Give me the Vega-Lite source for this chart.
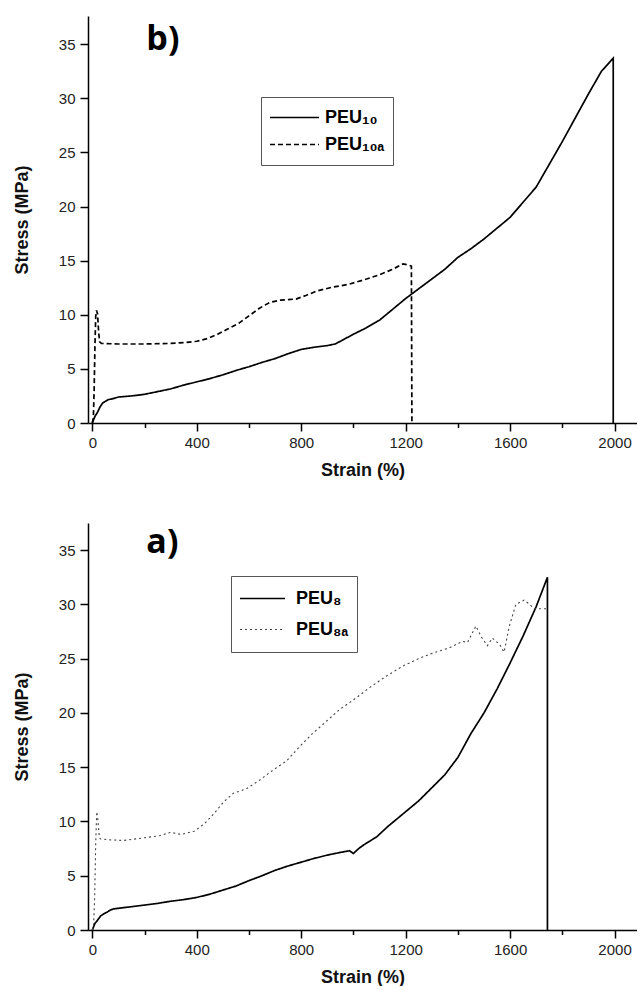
{
  "$schema": "https://vega.github.io/schema/vega-lite/v6.json",
  "padding": {"left": 13, "top": 16, "right": 0, "bottom": 0},
  "background": "white",
  "spacing": 44,
  "config": {
    "view": {"stroke": null},
    "font": "Liberation Sans",
    "axis": {
      "domainColor": "black", "domainWidth": 1.5, "tickColor": "black", "tickWidth": 1.5,
      "labelColor": "#222", "labelFont": "Liberation Sans", "labelFontSize": 15,
      "titleFont": "Liberation Sans", "titleFontSize": 18, "titleFontWeight": "bold", "titleColor": "#111",
      "grid": false, "labelOverlap": false, "labelFlush": false
    }
  },
  "resolve": {
    "scale": {"strokeDash": "independent", "color": "independent", "strokeWidth": "independent"},
    "legend": {"strokeDash": "independent", "color": "independent", "strokeWidth": "independent"}
  },
  "datasets": {
    "top": [
      {"series": "PEU₁₀", "strain": 0, "stress": 0},
      {"series": "PEU₁₀", "strain": 5, "stress": 0.3},
      {"series": "PEU₁₀", "strain": 10, "stress": 0.6},
      {"series": "PEU₁₀", "strain": 20, "stress": 1.0},
      {"series": "PEU₁₀", "strain": 30, "stress": 1.5},
      {"series": "PEU₁₀", "strain": 40, "stress": 1.85},
      {"series": "PEU₁₀", "strain": 50, "stress": 2.0},
      {"series": "PEU₁₀", "strain": 60, "stress": 2.15},
      {"series": "PEU₁₀", "strain": 80, "stress": 2.25},
      {"series": "PEU₁₀", "strain": 100, "stress": 2.4},
      {"series": "PEU₁₀", "strain": 150, "stress": 2.5},
      {"series": "PEU₁₀", "strain": 200, "stress": 2.65},
      {"series": "PEU₁₀", "strain": 250, "stress": 2.9},
      {"series": "PEU₁₀", "strain": 300, "stress": 3.15},
      {"series": "PEU₁₀", "strain": 350, "stress": 3.5},
      {"series": "PEU₁₀", "strain": 400, "stress": 3.8},
      {"series": "PEU₁₀", "strain": 450, "stress": 4.1},
      {"series": "PEU₁₀", "strain": 500, "stress": 4.45},
      {"series": "PEU₁₀", "strain": 550, "stress": 4.85},
      {"series": "PEU₁₀", "strain": 600, "stress": 5.2},
      {"series": "PEU₁₀", "strain": 650, "stress": 5.6},
      {"series": "PEU₁₀", "strain": 700, "stress": 5.95},
      {"series": "PEU₁₀", "strain": 750, "stress": 6.4},
      {"series": "PEU₁₀", "strain": 800, "stress": 6.8},
      {"series": "PEU₁₀", "strain": 850, "stress": 7.0},
      {"series": "PEU₁₀", "strain": 900, "stress": 7.15},
      {"series": "PEU₁₀", "strain": 930, "stress": 7.3},
      {"series": "PEU₁₀", "strain": 950, "stress": 7.55},
      {"series": "PEU₁₀", "strain": 1000, "stress": 8.2},
      {"series": "PEU₁₀", "strain": 1050, "stress": 8.8},
      {"series": "PEU₁₀", "strain": 1100, "stress": 9.5},
      {"series": "PEU₁₀", "strain": 1150, "stress": 10.5},
      {"series": "PEU₁₀", "strain": 1200, "stress": 11.5},
      {"series": "PEU₁₀", "strain": 1250, "stress": 12.4},
      {"series": "PEU₁₀", "strain": 1300, "stress": 13.3},
      {"series": "PEU₁₀", "strain": 1350, "stress": 14.2},
      {"series": "PEU₁₀", "strain": 1400, "stress": 15.3},
      {"series": "PEU₁₀", "strain": 1450, "stress": 16.1},
      {"series": "PEU₁₀", "strain": 1500, "stress": 17.0},
      {"series": "PEU₁₀", "strain": 1550, "stress": 18.0},
      {"series": "PEU₁₀", "strain": 1600, "stress": 19.0},
      {"series": "PEU₁₀", "strain": 1650, "stress": 20.4},
      {"series": "PEU₁₀", "strain": 1700, "stress": 21.8},
      {"series": "PEU₁₀", "strain": 1750, "stress": 23.9},
      {"series": "PEU₁₀", "strain": 1800, "stress": 26.0},
      {"series": "PEU₁₀", "strain": 1850, "stress": 28.2},
      {"series": "PEU₁₀", "strain": 1900, "stress": 30.4},
      {"series": "PEU₁₀", "strain": 1950, "stress": 32.5},
      {"series": "PEU₁₀", "strain": 1995, "stress": 33.7},
      {"series": "PEU₁₀", "strain": 1995, "stress": 0},
      {"series": "PEU₁₀ₐ", "strain": 0, "stress": 0},
      {"series": "PEU₁₀ₐ", "strain": 4, "stress": 0.5},
      {"series": "PEU₁₀ₐ", "strain": 7, "stress": 3},
      {"series": "PEU₁₀ₐ", "strain": 10, "stress": 7},
      {"series": "PEU₁₀ₐ", "strain": 13, "stress": 9.8},
      {"series": "PEU₁₀ₐ", "strain": 16, "stress": 10.4},
      {"series": "PEU₁₀ₐ", "strain": 20, "stress": 10.1},
      {"series": "PEU₁₀ₐ", "strain": 24, "stress": 8.5},
      {"series": "PEU₁₀ₐ", "strain": 28, "stress": 7.5},
      {"series": "PEU₁₀ₐ", "strain": 35, "stress": 7.35},
      {"series": "PEU₁₀ₐ", "strain": 100, "stress": 7.3},
      {"series": "PEU₁₀ₐ", "strain": 200, "stress": 7.3},
      {"series": "PEU₁₀ₐ", "strain": 300, "stress": 7.35},
      {"series": "PEU₁₀ₐ", "strain": 360, "stress": 7.45},
      {"series": "PEU₁₀ₐ", "strain": 400, "stress": 7.55},
      {"series": "PEU₁₀ₐ", "strain": 440, "stress": 7.8},
      {"series": "PEU₁₀ₐ", "strain": 480, "stress": 8.2},
      {"series": "PEU₁₀ₐ", "strain": 520, "stress": 8.7},
      {"series": "PEU₁₀ₐ", "strain": 560, "stress": 9.2},
      {"series": "PEU₁₀ₐ", "strain": 600, "stress": 9.9},
      {"series": "PEU₁₀ₐ", "strain": 640, "stress": 10.6},
      {"series": "PEU₁₀ₐ", "strain": 680, "stress": 11.15},
      {"series": "PEU₁₀ₐ", "strain": 720, "stress": 11.35},
      {"series": "PEU₁₀ₐ", "strain": 780, "stress": 11.45},
      {"series": "PEU₁₀ₐ", "strain": 820, "stress": 11.8},
      {"series": "PEU₁₀ₐ", "strain": 860, "stress": 12.2},
      {"series": "PEU₁₀ₐ", "strain": 920, "stress": 12.55},
      {"series": "PEU₁₀ₐ", "strain": 980, "stress": 12.8},
      {"series": "PEU₁₀ₐ", "strain": 1050, "stress": 13.3},
      {"series": "PEU₁₀ₐ", "strain": 1100, "stress": 13.7},
      {"series": "PEU₁₀ₐ", "strain": 1150, "stress": 14.2},
      {"series": "PEU₁₀ₐ", "strain": 1190, "stress": 14.7},
      {"series": "PEU₁₀ₐ", "strain": 1210, "stress": 14.6},
      {"series": "PEU₁₀ₐ", "strain": 1222, "stress": 14.5},
      {"series": "PEU₁₀ₐ", "strain": 1224, "stress": 0}
    ],
    "bottom": [
      {"series": "PEU₈", "strain": 0, "stress": 0},
      {"series": "PEU₈", "strain": 5, "stress": 0.3},
      {"series": "PEU₈", "strain": 10, "stress": 0.6},
      {"series": "PEU₈", "strain": 20, "stress": 0.9},
      {"series": "PEU₈", "strain": 32, "stress": 1.3},
      {"series": "PEU₈", "strain": 45, "stress": 1.5},
      {"series": "PEU₈", "strain": 57, "stress": 1.65},
      {"series": "PEU₈", "strain": 70, "stress": 1.85},
      {"series": "PEU₈", "strain": 83, "stress": 1.95},
      {"series": "PEU₈", "strain": 100, "stress": 2.0},
      {"series": "PEU₈", "strain": 134, "stress": 2.1},
      {"series": "PEU₈", "strain": 200, "stress": 2.3},
      {"series": "PEU₈", "strain": 250, "stress": 2.45},
      {"series": "PEU₈", "strain": 300, "stress": 2.65},
      {"series": "PEU₈", "strain": 350, "stress": 2.8},
      {"series": "PEU₈", "strain": 400, "stress": 3.0},
      {"series": "PEU₈", "strain": 450, "stress": 3.3},
      {"series": "PEU₈", "strain": 490, "stress": 3.6},
      {"series": "PEU₈", "strain": 550, "stress": 4.05},
      {"series": "PEU₈", "strain": 600, "stress": 4.55},
      {"series": "PEU₈", "strain": 650, "stress": 5.0},
      {"series": "PEU₈", "strain": 700, "stress": 5.5},
      {"series": "PEU₈", "strain": 750, "stress": 5.9},
      {"series": "PEU₈", "strain": 800, "stress": 6.25},
      {"series": "PEU₈", "strain": 850, "stress": 6.6},
      {"series": "PEU₈", "strain": 900, "stress": 6.9},
      {"series": "PEU₈", "strain": 950, "stress": 7.15},
      {"series": "PEU₈", "strain": 985, "stress": 7.3},
      {"series": "PEU₈", "strain": 1000, "stress": 7.05},
      {"series": "PEU₈", "strain": 1020, "stress": 7.5},
      {"series": "PEU₈", "strain": 1040, "stress": 7.85},
      {"series": "PEU₈", "strain": 1090, "stress": 8.6},
      {"series": "PEU₈", "strain": 1130, "stress": 9.5},
      {"series": "PEU₈", "strain": 1200, "stress": 10.9},
      {"series": "PEU₈", "strain": 1250, "stress": 11.9},
      {"series": "PEU₈", "strain": 1300, "stress": 13.1},
      {"series": "PEU₈", "strain": 1350, "stress": 14.3},
      {"series": "PEU₈", "strain": 1400, "stress": 15.9},
      {"series": "PEU₈", "strain": 1450, "stress": 18.1},
      {"series": "PEU₈", "strain": 1500, "stress": 20.0},
      {"series": "PEU₈", "strain": 1550, "stress": 22.2},
      {"series": "PEU₈", "strain": 1600, "stress": 24.6},
      {"series": "PEU₈", "strain": 1650, "stress": 27.1},
      {"series": "PEU₈", "strain": 1700, "stress": 29.8},
      {"series": "PEU₈", "strain": 1743, "stress": 32.5},
      {"series": "PEU₈", "strain": 1743, "stress": 0},
      {"series": "PEU₈ₐ", "strain": 0, "stress": 0},
      {"series": "PEU₈ₐ", "strain": 5, "stress": 0.5},
      {"series": "PEU₈ₐ", "strain": 9, "stress": 3},
      {"series": "PEU₈ₐ", "strain": 13, "stress": 8},
      {"series": "PEU₈ₐ", "strain": 17, "stress": 10.9},
      {"series": "PEU₈ₐ", "strain": 21, "stress": 10.2},
      {"series": "PEU₈ₐ", "strain": 26, "stress": 8.8},
      {"series": "PEU₈ₐ", "strain": 30, "stress": 8.4},
      {"series": "PEU₈ₐ", "strain": 70, "stress": 8.3},
      {"series": "PEU₈ₐ", "strain": 120, "stress": 8.25},
      {"series": "PEU₈ₐ", "strain": 200, "stress": 8.5},
      {"series": "PEU₈ₐ", "strain": 260, "stress": 8.7},
      {"series": "PEU₈ₐ", "strain": 300, "stress": 9.0},
      {"series": "PEU₈ₐ", "strain": 340, "stress": 8.8},
      {"series": "PEU₈ₐ", "strain": 390, "stress": 9.1},
      {"series": "PEU₈ₐ", "strain": 430, "stress": 9.8},
      {"series": "PEU₈ₐ", "strain": 465, "stress": 10.7},
      {"series": "PEU₈ₐ", "strain": 503, "stress": 11.8},
      {"series": "PEU₈ₐ", "strain": 540, "stress": 12.6},
      {"series": "PEU₈ₐ", "strain": 590, "stress": 13.0},
      {"series": "PEU₈ₐ", "strain": 640, "stress": 13.8},
      {"series": "PEU₈ₐ", "strain": 690, "stress": 14.7},
      {"series": "PEU₈ₐ", "strain": 745, "stress": 15.6},
      {"series": "PEU₈ₐ", "strain": 790, "stress": 16.8},
      {"series": "PEU₈ₐ", "strain": 843, "stress": 18.1},
      {"series": "PEU₈ₐ", "strain": 900, "stress": 19.3},
      {"series": "PEU₈ₐ", "strain": 946, "stress": 20.3},
      {"series": "PEU₈ₐ", "strain": 1000, "stress": 21.2},
      {"series": "PEU₈ₐ", "strain": 1060, "stress": 22.3},
      {"series": "PEU₈ₐ", "strain": 1120, "stress": 23.3},
      {"series": "PEU₈ₐ", "strain": 1188, "stress": 24.3},
      {"series": "PEU₈ₐ", "strain": 1240, "stress": 24.9},
      {"series": "PEU₈ₐ", "strain": 1290, "stress": 25.4},
      {"series": "PEU₈ₐ", "strain": 1367, "stress": 26.0},
      {"series": "PEU₈ₐ", "strain": 1418, "stress": 26.6},
      {"series": "PEU₈ₐ", "strain": 1437, "stress": 26.5},
      {"series": "PEU₈ₐ", "strain": 1469, "stress": 28.0},
      {"series": "PEU₈ₐ", "strain": 1490, "stress": 27.0},
      {"series": "PEU₈ₐ", "strain": 1513, "stress": 26.2},
      {"series": "PEU₈ₐ", "strain": 1532, "stress": 26.9},
      {"series": "PEU₈ₐ", "strain": 1560, "stress": 26.3},
      {"series": "PEU₈ₐ", "strain": 1577, "stress": 25.6},
      {"series": "PEU₈ₐ", "strain": 1596, "stress": 27.9},
      {"series": "PEU₈ₐ", "strain": 1622, "stress": 30.0},
      {"series": "PEU₈ₐ", "strain": 1654, "stress": 30.4},
      {"series": "PEU₈ₐ", "strain": 1675, "stress": 30.0},
      {"series": "PEU₈ₐ", "strain": 1692, "stress": 29.6},
      {"series": "PEU₈ₐ", "strain": 1743, "stress": 29.6}
    ]
  },
  "vconcat": [
    {
      "width": 549,
      "height": 407,
      "layer": [
        {
          "data": {"name": "top"},
          "mark": {"type": "line", "color": "black", "strokeWidth": 1.7},
          "encoding": {
            "x": {
              "field": "strain", "type": "quantitative",
              "scale": {"domain": [-16.5, 2086], "nice": false, "zero": false},
              "axis": {
                "title": "Strain (%)", "format": "d",
                "values": [0, 200, 400, 600, 800, 1000, 1200, 1400, 1600, 1800, 2000],
                "labelExpr": "datum.value % 400 === 0 ? datum.label : ''",
                "tickSize": {"condition": {"test": "datum.value % 400 === 0", "value": 8}, "value": 4.5},
                "labelPadding": 4, "titlePadding": 11
              }
            },
            "y": {
              "field": "stress", "type": "quantitative",
              "scale": {"domain": [0, 37.6], "nice": false},
              "axis": {
                "title": "Stress (MPa)",
                "values": [0, 2.5, 5, 7.5, 10, 12.5, 15, 17.5, 20, 22.5, 25, 27.5, 30, 32.5, 35],
                "labelExpr": "datum.value % 5 === 0 ? datum.label : ''",
                "tickSize": {"condition": {"test": "datum.value % 5 === 0", "value": 8}, "value": 3.5},
                "labelPadding": 5, "titlePadding": 26.5
              }
            },
            "strokeDash": {
              "field": "series", "type": "nominal",
              "scale": {"domain": ["PEU₁₀", "PEU₁₀ₐ"], "range": [[1, 0], [5, 3]]},
              "legend": {
                "title": null, "orient": "none", "legendX": 173, "legendY": 81,
                "symbolType": "stroke", "symbolSize": 2401, "symbolStrokeWidth": 1.5, "symbolStrokeColor": "black",
                "labelFont": "Liberation Sans", "labelFontSize": 18, "labelFontWeight": "bold", "labelColor": "black",
                "labelOffset": 5, "labelLimit": 300,
                "strokeColor": "#555", "fillColor": "white", "padding": 8, "clipHeight": 25, "rowPadding": 2
              }
            },
            "order": {"value": null}
          }
        },
        {
          "data": {"values": [{}]},
          "mark": {"type": "text", "text": "b)", "font": "Open Sans", "fontWeight": "bold", "fontSize": 34, "align": "left", "baseline": "alphabetic", "color": "black"},
          "encoding": {"x": {"datum": 207}, "y": {"datum": 34.5}}
        }
      ]
    },
    {
      "width": 549,
      "height": 407,
      "layer": [
        {
          "data": {"name": "bottom"},
          "mark": {"type": "line"},
          "encoding": {
            "x": {
              "field": "strain", "type": "quantitative",
              "scale": {"domain": [-16.5, 2086], "nice": false, "zero": false},
              "axis": {
                "title": "Strain (%)", "format": "d",
                "values": [0, 200, 400, 600, 800, 1000, 1200, 1400, 1600, 1800, 2000],
                "labelExpr": "datum.value % 400 === 0 ? datum.label : ''",
                "tickSize": {"condition": {"test": "datum.value % 400 === 0", "value": 8}, "value": 4.5},
                "labelPadding": 4, "titlePadding": 11
              }
            },
            "y": {
              "field": "stress", "type": "quantitative",
              "scale": {"domain": [0, 37.5], "nice": false},
              "axis": {
                "title": "Stress (MPa)",
                "values": [0, 2.5, 5, 7.5, 10, 12.5, 15, 17.5, 20, 22.5, 25, 27.5, 30, 32.5, 35],
                "labelExpr": "datum.value % 5 === 0 ? datum.label : ''",
                "tickSize": {"condition": {"test": "datum.value % 5 === 0", "value": 8}, "value": 3.5},
                "labelPadding": 5, "titlePadding": 26.5
              }
            },
            "strokeDash": {
              "field": "series", "type": "nominal",
              "scale": {"domain": ["PEU₈", "PEU₈ₐ"], "range": [[1, 0], [2, 3]]},
              "legend": {
                "title": null, "orient": "none", "legendX": 143, "legendY": 53,
                "symbolType": "stroke", "symbolSize": 2025,
                "labelFont": "Liberation Sans", "labelFontSize": 18, "labelFontWeight": "bold", "labelColor": "black",
                "labelOffset": 10, "labelLimit": 300,
                "strokeColor": "#555", "fillColor": "white", "padding": 8, "clipHeight": 29, "rowPadding": 2
              }
            },
            "color": {
              "field": "series", "type": "nominal",
              "scale": {"domain": ["PEU₈", "PEU₈ₐ"], "range": ["black", "#444"]}
            },
            "strokeWidth": {
              "field": "series", "type": "nominal",
              "scale": {"domain": ["PEU₈", "PEU₈ₐ"], "range": [1.7, 1.1]}
            },
            "order": {"value": null}
          }
        },
        {
          "data": {"values": [{}]},
          "mark": {"type": "text", "text": "a)", "font": "Open Sans", "fontWeight": "bold", "fontSize": 34, "align": "left", "baseline": "alphabetic", "color": "black"},
          "encoding": {"x": {"datum": 207}, "y": {"datum": 34.7}}
        }
      ]
    }
  ]
}
